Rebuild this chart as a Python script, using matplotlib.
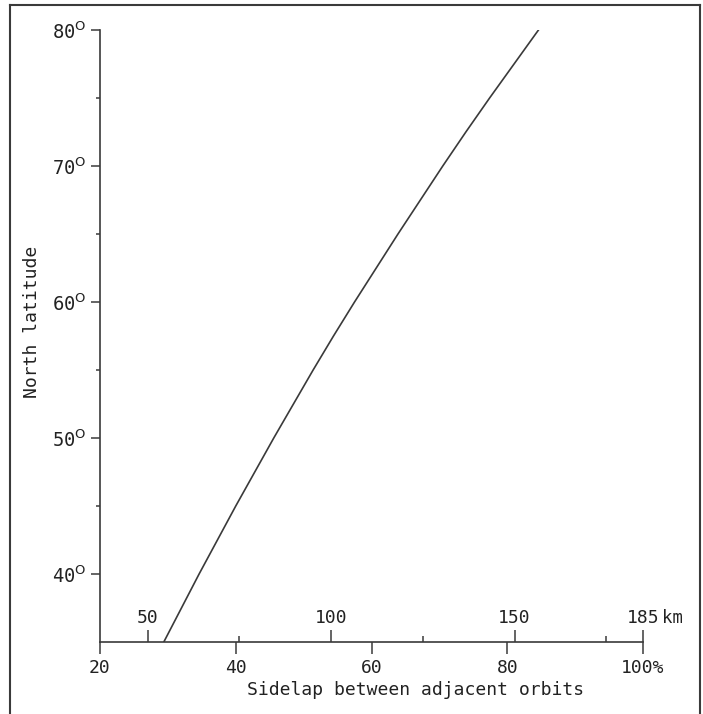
import matplotlib
matplotlib.use("Agg")
import matplotlib.pyplot as plt
from matplotlib.lines import Line2D

plt.rcParams['font.family'] = ['DejaVu Sans Mono']
plt.rcParams['mathtext.fontset'] = 'custom'
plt.rcParams['mathtext.rm'] = 'DejaVu Sans'

# values
latitude = [35, 37.5, 40, 42.5, 45, 47.5, 50, 52.5, 55, 57.5,
            60, 62.5, 65, 67.5, 70, 72.5, 75, 77.5, 80]
sidelap_pct = [29.4, 32.0, 34.6, 37.3, 40.0, 42.8, 45.6, 48.5, 51.4, 54.4,
               57.5, 60.7, 63.9, 67.2, 70.5, 73.9, 77.4, 81.0, 84.6]

lat_ticks = [40, 50, 60, 70, 80]
lat_minor = [45, 55, 65, 75]
pct_ticks = [20, 40, 60, 80, 100]
pct_labels = ['20', '40', '60', '80', '100%']
km_ticks = [50, 100, 150, 185]
km_minor = [75, 125, 175]
swath_km = 185

ink = '#3a3a3a'
txt = '#222222'

fig = plt.figure(figsize=(7.03, 7.14), dpi=100)
ax = fig.add_axes([100 / 703, 1 - 642 / 714, 543 / 703, 612 / 714])

ax.plot(sidelap_pct, latitude, color=ink, lw=1.2)

ax.set_xlim(20, 100)
ax.set_ylim(35, 80)
ax.spines['top'].set_visible(False)
ax.spines['right'].set_visible(False)
for s in ('left', 'bottom'):
    ax.spines[s].set_color(ink)
    ax.spines[s].set_linewidth(1.2)

ax.set_yticks(lat_ticks)
ax.set_yticklabels([f"{v}$^{{\\mathrm{{O}}}}$" for v in lat_ticks])
ax.set_yticks(lat_minor, minor=True)
ax.tick_params(axis='y', which='major', direction='out', length=6.5, width=1.1,
               color=ink, labelsize=13.5, labelcolor=txt, pad=3)
ax.tick_params(axis='y', which='minor', direction='out', length=3, width=1.1, color=ink)

ax.set_xticks(pct_ticks)
ax.set_xticklabels(pct_labels)
ax.tick_params(axis='x', which='major', direction='out', length=8.5, width=1.1,
               color=ink, labelsize=13, labelcolor=txt, pad=4)

# km scale above the bottom spine
kax = fig.add_axes([100 / 703, 1 - 642 / 714, 543 / 703, 0.0001])
kax.set_xlim(swath_km * 20 / 100, swath_km)
kax.patch.set_visible(False)
for s in kax.spines.values():
    s.set_visible(False)
kax.set_yticks([])
kax.xaxis.set_ticks_position('top')
kax.set_xticks(km_ticks)
kax.set_xticklabels([str(v) for v in km_ticks])
kax.set_xticks(km_minor, minor=True)
kax.tick_params(axis='x', which='major', direction='out', length=8.5, width=1.1,
                color=ink, labelsize=13, labelcolor=txt, pad=2,
                top=True, bottom=False, labeltop=True, labelbottom=False)
kax.tick_params(axis='x', which='minor', direction='out', length=4.3, width=1.1,
                color=ink, top=True, bottom=False)
fig.text(662 / 703, 1 - 618 / 714, 'km', fontsize=12.5, color=txt,
         ha='left', va='center')

fig.text(416 / 703, 1 - 690 / 714, 'Sidelap between adjacent orbits',
         fontsize=13, color=txt, ha='center', va='center')
fig.text(32 / 703, 1 - 322 / 714, 'North latitude', rotation=90,
         fontsize=13, color=txt, ha='center', va='center')

# outer frame
fx0, fx1 = 10 / 703, 700 / 703
fy1 = 1 - 5 / 714
for xs, ys in (([fx0, fx0], [0, fy1]), ([fx0, fx1], [fy1, fy1]), ([fx1, fx1], [fy1, 0])):
    fig.add_artist(Line2D(xs, ys, color=ink, lw=1.5, transform=fig.transFigure))

fig.savefig('out.png', dpi=100)
